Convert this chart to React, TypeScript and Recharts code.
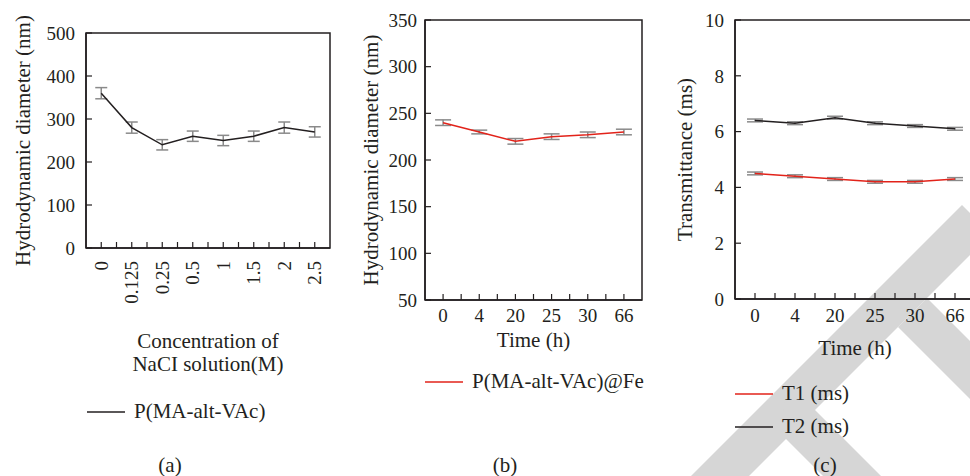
import React from 'react';
import { LineChart, Line, XAxis, YAxis, ErrorBar, ReferenceArea, Legend, Label } from 'recharts';

const INK = '#231f20';
const RED = '#e2231a';
const ERR = '#8a8a8a';
const FONT = '"Liberation Serif", "Times New Roman", serif';

// (a) NaCl concentration series
const naclConc = ['0', '0.125', '0.25', '0.5', '1', '1.5', '2', '2.5'];
const naclDiameter = [360, 280, 240, 260, 250, 260, 280, 270];
const naclError = [13, 13, 12, 12, 12, 12, 13, 12];
const aYTicks = [0, 100, 200, 300, 400, 500];

// (b) P(MA-alt-VAc)@Fe over time
const timeLabels = ['0', '4', '20', '25', '30', '66'];
const feDiameter = [240, 230, 220, 225, 227, 230];
const feError = [3, 2, 3, 3, 3, 3];
const bYTicks = [50, 100, 150, 200, 250, 300, 350];

// (c) relaxation times
const t1Values = [4.5, 4.4, 4.3, 4.2, 4.2, 4.3];
const t1Error = [0.05, 0.05, 0.05, 0.05, 0.05, 0.05];
const t2Values = [6.4, 6.3, 6.5, 6.3, 6.2, 6.1];
const t2Error = [0.05, 0.05, 0.05, 0.05, 0.05, 0.05];
const cYTicks = [0, 2, 4, 6, 8, 10];

const naclRows = naclConc.map((c, i) => ({ pos: i, label: c, v: naclDiameter[i], e: naclError[i] }));
const feRows = timeLabels.map((t, i) => ({ pos: i, label: t, v: feDiameter[i], e: feError[i] }));
const relaxRows = timeLabels.map((t, i) => ({
  pos: i, label: t, t1: t1Values[i], e1: t1Error[i], t2: t2Values[i], e2: t2Error[i],
}));

// ticks at each category and half way between them
const halfSteps = (n: number) => Array.from({ length: 2 * n - 1 }, (_, i) => i / 2);

const UprightTick = ({ x, y, payload, labels }: any) =>
  Number.isInteger(payload.value) ? (
    <text x={x} y={y} dy="0.35em" textAnchor="middle" fontSize={19} fill={INK} fontFamily={FONT}>
      {labels[payload.value]}
    </text>
  ) : null;

const RotTick = ({ x, y, payload, labels }: any) =>
  Number.isInteger(payload.value) ? (
    <text x={x} y={y} dy="0.35em" textAnchor="end" transform={`rotate(-90 ${x} ${y})`}
      fontSize={19} fill={INK} fontFamily={FONT}>
      {labels[payload.value]}
    </text>
  ) : null;

const AxisTitle = ({ viewBox, lines, gap }: any) => {
  const cx = viewBox.x + viewBox.width / 2;
  return (
    <text x={cx} y={viewBox.y + gap} textAnchor="middle" fontSize={21} fill={INK} fontFamily={FONT}>
      {lines.map((l: string, i: number) => (
        <tspan key={i} x={cx} dy={i === 0 ? 0 : 23}>{l}</tspan>
      ))}
    </text>
  );
};

const LegendList = ({ payload }: any) => (
  <div style={{ fontFamily: FONT, fontSize: 21, color: INK }}>
    {(payload || []).map((p: any) => (
      <div key={p.value} style={{ display: 'flex', alignItems: 'center', height: 33 }}>
        <svg width={38} height={4}><line x1={0} y1={2} x2={38} y2={2} stroke={p.color} strokeWidth={1.5} /></svg>
        <span style={{ marginLeft: 9, whiteSpace: 'nowrap' }}>{p.value}</span>
      </div>
    ))}
  </div>
);

const yTick = { fontSize: 19, fill: INK, fontFamily: FONT };
const axisStroke = { stroke: INK, strokeWidth: 1.5 };
const tickStroke = { stroke: INK, strokeWidth: 1.2 };
const yTitleStyle = { textAnchor: 'middle' as const, fontSize: 21, fill: INK, fontFamily: FONT };

const caption: React.CSSProperties = {
  position: 'absolute', top: 452, width: 40, marginLeft: -20, textAlign: 'center',
  fontFamily: FONT, fontSize: 21, color: INK, lineHeight: '26px',
};

export default function App() {
  return (
    <div style={{ position: 'absolute', left: 0, top: 0, width: 970, height: 476, overflow: 'hidden', background: '#fff' }}>
      {/* background watermark */}
      <svg width={970} height={476} style={{ position: 'absolute', left: 0, top: 0 }}>
        <polygon points="691,476 962,205 991,234 749,476" fill="#d6d6d6" />
        <polygon points="786,381 881,476 823,476 782,435" fill="#d6d6d6" />
        <polygon points="898,327 927,298 975,346 975,404" fill="#d6d6d6" />
      </svg>

      <div style={{ position: 'absolute', left: 0, top: 0 }}>
        <LineChart width={340} height={476} data={naclRows} margin={{ top: 33, right: 10, bottom: 198, left: 30 }}>
          <ReferenceArea x1={-0.5} x2={7.5} y1={0} y2={500} fill="none" stroke={INK} strokeWidth={1.5} ifOverflow="visible" />
          <XAxis type="number" dataKey="pos" domain={[-0.5, 7.5]} ticks={halfSteps(8)} interval={0}
            tickSize={-6} tickMargin={19} height={30} axisLine={axisStroke} tickLine={tickStroke}
            tick={<RotTick labels={naclConc} />}>
            <Label content={<AxisTitle lines={['Concentration of', 'NaCI solution(M)']} gap={100} />} />
          </XAxis>
          <YAxis type="number" domain={[0, 500]} ticks={aYTicks} interval={0} width={56}
            tickSize={-6} tickMargin={17} tick={yTick} axisLine={axisStroke} tickLine={tickStroke}>
            <Label value="Hydrodynamic diameter (nm)" angle={-90} position="left" offset={7} style={yTitleStyle} />
          </YAxis>
          <Line dataKey="v" name="P(MA-alt-VAc)" stroke={INK} strokeWidth={1.5} dot={false} isAnimationActive={false}>
            <ErrorBar dataKey="e" width={6} stroke={ERR} strokeWidth={1.5} direction="y" isAnimationActive={false} />
          </Line>
          <Legend layout="vertical" align="center" verticalAlign="middle" wrapperStyle={{ top: 395, left: 87 }}
            content={<LegendList />} />
        </LineChart>
      </div>

      <div style={{ position: 'absolute', left: 340, top: 0 }}>
        <LineChart width={320} height={476} data={feRows} margin={{ top: 20, right: 18, bottom: 146, left: 35 }}>
          <ReferenceArea x1={-0.5} x2={5.5} y1={50} y2={350} fill="none" stroke={INK} strokeWidth={1.5} ifOverflow="visible" />
          <XAxis type="number" dataKey="pos" domain={[-0.5, 5.5]} ticks={halfSteps(6)} interval={0}
            tickSize={-6} tickMargin={21} height={30} axisLine={axisStroke} tickLine={tickStroke}
            tick={<UprightTick labels={timeLabels} />}>
            <Label content={<AxisTitle lines={['Time (h)']} gap={47} />} />
          </XAxis>
          <YAxis type="number" domain={[50, 350]} ticks={bYTicks} interval={0} width={50}
            tickSize={-6} tickMargin={14} tick={yTick} axisLine={axisStroke} tickLine={tickStroke}>
            <Label value="Hydrodynamic diameter (nm)" angle={-90} position="left" offset={4} style={yTitleStyle} />
          </YAxis>
          <Line dataKey="v" name="P(MA-alt-VAc)@Fe" stroke={RED} strokeWidth={1.5} dot={false} isAnimationActive={false}>
            <ErrorBar dataKey="e" width={8} stroke={ERR} strokeWidth={1.5} direction="y" isAnimationActive={false} />
          </Line>
          <Legend layout="vertical" align="center" verticalAlign="middle" wrapperStyle={{ top: 365, left: 85 }}
            content={<LegendList />} />
        </LineChart>
      </div>

      <div style={{ position: 'absolute', left: 660, top: 0 }}>
        <LineChart width={330} height={476} data={relaxRows} margin={{ top: 20, right: 15, bottom: 147, left: 25 }}>
          <ReferenceArea x1={-0.5} x2={5.5} y1={0} y2={10} fill="none" stroke={INK} strokeWidth={1.5} ifOverflow="visible" />
          <XAxis type="number" dataKey="pos" domain={[-0.5, 5.5]} ticks={halfSteps(6)} interval={0}
            tickSize={-6} tickMargin={22} height={30} axisLine={axisStroke} tickLine={tickStroke}
            tick={<UprightTick labels={timeLabels} />}>
            <Label content={<AxisTitle lines={['Time (h)']} gap={56} />} />
          </XAxis>
          <YAxis type="number" domain={[0, 10]} ticks={cYTicks} interval={0} width={50}
            tickSize={-6} tickMargin={17} tick={yTick} axisLine={axisStroke} tickLine={tickStroke}>
            <Label value="Transmittance (ms)" angle={-90} position="left" offset={0} style={yTitleStyle} />
          </YAxis>
          <Line dataKey="t1" name="T1 (ms)" stroke={RED} strokeWidth={1.5} dot={false} isAnimationActive={false}>
            <ErrorBar dataKey="e1" width={8} stroke={ERR} strokeWidth={1.5} direction="y" isAnimationActive={false} />
          </Line>
          <Line dataKey="t2" name="T2 (ms)" stroke={INK} strokeWidth={1.5} dot={false} isAnimationActive={false}>
            <ErrorBar dataKey="e2" width={8} stroke={ERR} strokeWidth={1.5} direction="y" isAnimationActive={false} />
          </Line>
          <Legend layout="vertical" align="center" verticalAlign="middle" wrapperStyle={{ top: 377, left: 75 }}
            content={<LegendList />} />
        </LineChart>
      </div>

      <div style={{ ...caption, left: 170 }}>(a)</div>
      <div style={{ ...caption, left: 505 }}>(b)</div>
      <div style={{ ...caption, left: 825 }}>(c)</div>
    </div>
  );
}
